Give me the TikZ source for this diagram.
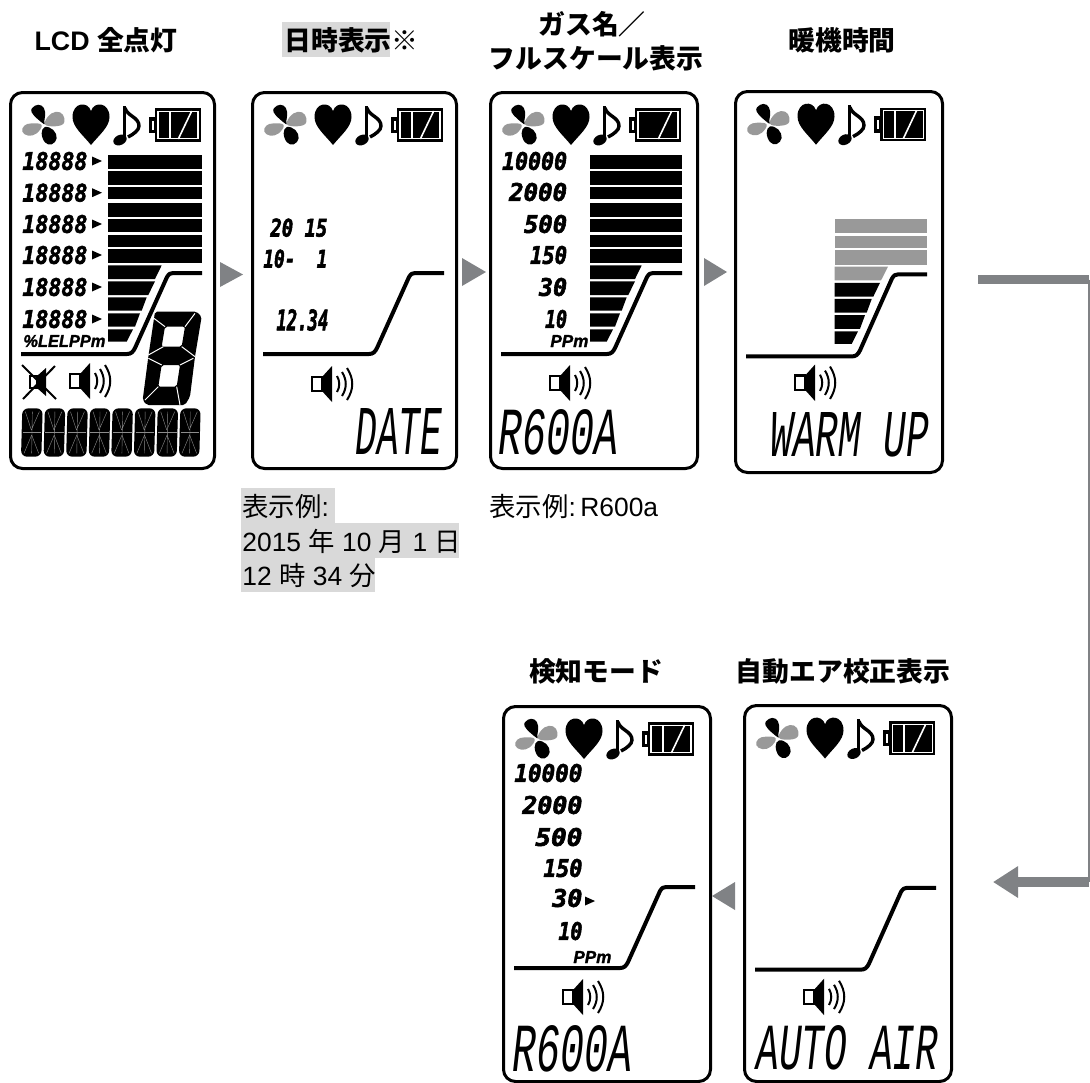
\documentclass[tikz,border=0pt]{standalone}
\usepackage{fontspec}
\usepackage{graphicx}
\usetikzlibrary{arrows.meta}
\setmainfont{Liberation Sans}
\newfontfamily\cj{Noto Sans CJK JP}
\newfontfamily\lcdsmall{DejaVu Sans Mono Bold Oblique}[FakeBold=2.5]
\newfontfamily\lcdlabel{Liberation Sans}[FakeBold=1.5]
\newfontfamily\lcdbig{Liberation Mono}
\definecolor{arrowgray}{HTML}{808285}
\definecolor{hl}{HTML}{D9D9D9}
\definecolor{lcdgray}{HTML}{999999}
\newdimen\pxu \pxu=0.5pt
\newcounter{tn}
\tikzset{
  panel/.style={draw=black,line width=1.5pt,rounded corners=6pt,fill=white,anchor=north west,inner sep=0pt},
  lcdline/.style={line width=2pt,line join=round},
  title/.style={inner sep=0pt,font=\fontsize{13.4}{16}\selectfont\bfseries},
  body/.style={inner sep=0pt,anchor=west,text=black,font=\fontsize{13.2}{16}\selectfont},
  lcdtext/.style={inner sep=0pt,anchor=west},
}
% small heavy oblique LCD text: x-left, y-centre, width, height, text
\newcommand\lcdS[5]{\stepcounter{tn}\node[lcdtext] (t\thetn) at (#1,#2) {\resizebox{#3\pxu}{#4\pxu}{\lcdsmall #5}};}
\newcommand\lcdL[5]{\stepcounter{tn}\node[lcdtext] (t\thetn) at (#1,#2) {\resizebox{#3\pxu}{#4\pxu}{\lcdlabel\bfseries\itshape #5}};}
% large thin LCD text
\newcommand\lcdB[5]{\stepcounter{tn}\node[lcdtext] (t\thetn) at (#1,#2) {\resizebox{#3\pxu}{#4\pxu}{\lcdbig\itshape #5}};}
\newcommand\rowarr[2]{\fill (#1,#2-4.5) -- (#1+10,#2) -- (#1,#2+4.5) -- cycle;}
\newcommand\icons[2]{%
  \begin{scope}[shift={(6,4)},scale=1/3]
    \fill plot[smooth cycle,tension=.7] coordinates {(85,86)(50,52)(60,32)(80,32)(90,50)(88,78)};
    \fill[lcdgray] plot[smooth cycle,tension=.7] coordinates {(90,80)(110,55)(135,52)(148,70)(140,90)(100,93)};
    \fill plot[smooth cycle,tension=.7] coordinates {(90,96)(115,105)(125,130)(110,148)(90,142)(80,115)};
    \fill[lcdgray] plot[smooth cycle,tension=.7] coordinates {(80,90)(50,85)(28,92)(22,110)(40,122)(65,115)};
  \end{scope}
  \fill (82,54) .. controls (74,44) and (63.5,36) .. (63.5,26) .. controls (63.5,11) and (79,10) .. (82,20) .. controls (85,10) and (100.5,11) .. (100.5,26) .. controls (100.5,36) and (90,44) .. (82,54) -- cycle;
  \draw[line width=1.5pt] (115.5,47) -- (115.5,15);
  \draw[line width=1.7pt] (116,17) .. controls (118,25) and (130,26) .. (130,35) .. controls (130,39) and (125,43) .. (119,46);
  \fill[rotate around={25:(111,49)}] (111,49) ellipse (7 and 5);
  \fill (146,17.3) rectangle (192,50.7);
  \fill (140.3,26) rectangle (147,42);
  \fill[white] (142.5,29.5) rectangle (145,38.5);
  \ifnum#1=1 \draw[white,line width=.6pt] (149,20.5) rectangle (189,47.5);\else \draw[white,line width=.3pt] (149,20.5) rectangle (189,47.5);\fi
  \ifnum#2=1 \draw[white,line width=1.1pt] (161,20) -- (161,48);\fi
  \draw[white,line width=.8pt] (169.3,48) -- (182.7,20);
}
\newcommand\lcdcurve{%
  \draw[lcdline] (12,263) -- (118,263) .. controls (122,263) and (124,261) .. (126,257) -- (158,186) .. controls (160,183) and (161,182) .. (164,182) -- (193,182);
}
\newcommand\speaker[1]{%
  \begin{scope}[shift={(60,#1)}]
    \draw[line width=1.2pt] (1,-7) rectangle (11,7);
    \fill (11,-7) -- (21,-18) -- (21,18) -- (11,7) -- cycle;
    \draw[line width=1pt] (26,-8) .. controls (29,-3) and (29,3) .. (26,8);
    \draw[line width=1pt] (31,-12) .. controls (36,-4) and (36,4) .. (31,12);
    \draw[line width=1pt] (36,-16) .. controls (43,-5) and (43,5) .. (36,16);
  \end{scope}
}
\newcommand\fullbars[1]{%
  \foreach \a/\b in {64/78.3,79.7/94,95.7/108.3,111.7/125.7,127.7/140.7,144/156.3,158.3/172.3}
    \fill (#1,\a) rectangle (193,\b);
}
\newcommand\traps[1]{%
  \fill (#1,174.3) -- (152.7,174.3) -- (146,188) -- (#1,188) -- cycle;
  \fill (#1,190.3) -- (146,190.3) -- (139.3,204) -- (#1,204) -- cycle;
  \fill (#1,206.3) -- (137.7,206.3) -- (132.7,219.7) -- (#1,219.7) -- cycle;
  \fill (#1,222.3) -- (131,222.3) -- (126,235.7) -- (#1,235.7) -- cycle;
  \fill (#1,238.3) -- (124,238.3) -- (117.7,250.7) -- (#1,250.7) -- cycle;
}
\begin{document}
\begin{tikzpicture}[x=0.5pt,y=-0.5pt]
\useasboundingbox (0,0) rectangle (1090,1082);
% highlights
\fill[hl] (282,22) rectangle (390,57);
\fill[hl] (241,488) rectangle (335,523);
\fill[hl] (241,523) rectangle (459,558);
\fill[hl] (241,558) rectangle (375,592);
% titles
\node[title] (h1) at (106,40) {LCD {\cj 全点灯}};
\node[title,anchor=west] (h2) at (284,40) {\cj 日時表示※};
\node[title] (h3a) at (592,24) {\cj ガス名／};
\node[title] (h3b) at (596,58) {\cj フルスケール表示};
\node[title] (h4) at (842,40) {\cj 暖機時間};
\node[title] (h5) at (596,671) {\cj 検知モード};
\node[title] (h6) at (843,671) {\cj 自動エア校正表示};
% notes
\node[body] (n1) at (242,506) {\cj 表示例\rmfamily:};
\node[body] (n2) at (242,541) {2015 {\cj 年} 10 {\cj 月} 1 {\cj 日}};
\node[body] (n3) at (242,576) {12 {\cj 時} 34 {\cj 分}};
\node[body] (n4) at (489,506) {{\cj 表示例}:\,R600a};
% panels
\node[panel,minimum width=102pt,minimum height=188pt] (p1) at (9,91) {};
\node[panel,minimum width=102pt,minimum height=188pt] (p2) at (251,91) {};
\node[panel,minimum width=103.5pt,minimum height=188pt] (p3) at (489,91) {};
\node[panel,minimum width=103.5pt,minimum height=190.5pt] (p4) at (734,90) {};
\node[panel,minimum width=103.5pt,minimum height=187.5pt] (p5) at (502,705) {};
\node[panel,minimum width=103.5pt,minimum height=188pt] (p6) at (743,704) {};
% panel 1
\begin{scope}[shift={(9,91)}]
  \icons{1}{1}
  \fullbars{99}
  \traps{99}
  \lcdcurve
  \foreach \y in {70,101.7,133,164,196,228}{
    \lcdS{13}{\y}{65}{18}{18888}
    \rowarr{83}{\y}
  }
  \lcdL{14}{250}{82}{12}{\%LELPPm}
  \speaker{290}
  % mute
  \draw[line width=1pt] (21,285) rectangle (28,297);
  \fill (28,285) -- (37,277) -- (37,305) -- (28,297) -- cycle;
  \draw[line width=1pt] (13,274) -- (47,308);
  \draw[line width=1pt] (14,308) -- (46,275);
  % big segment digit
  \begin{scope}[shift={(121,209)},scale=1/3]
    \fill[even odd rule,rounded corners=1pt]
      (75,35) -- (200,35) -- (215,50) -- (195,170) -- (180,290) -- (165,315) -- (50,315) -- (38,300) -- (55,170) -- cycle
      (105,80) -- (165,80) -- (155,140) -- (95,140) -- cycle
      (95,195) -- (150,195) -- (140,260) -- (85,260) -- cycle;
    \draw[white,line width=.5pt] (65,50) -- (105,80) (195,40) -- (165,80) (100,140) -- (55,165) (155,140) -- (195,170)
      (55,175) -- (95,195) (190,175) -- (150,195) (85,260) -- (45,300) (140,260) -- (150,315);
  \end{scope}
  % alphanumeric all-segment cells
  \begin{scope}[shift={(-9,-11)},scale=1/3]
    \foreach \i in {0,...,7}{
      \pgfmathsetmacro\cx{62+67.7*\i}
      \fill[rounded corners=3pt] (\cx+5,985) -- (\cx+66,985) -- (\cx+62,1130) -- (\cx+1,1130) -- cycle;
      \draw[black!45,line width=.2pt] (\cx+6,1057) -- (\cx+62,1057);
      \draw[black!45,line width=.2pt] (\cx+14,995) -- (\cx+32,1050) (\cx+56,995) -- (\cx+32,1050) (\cx+35,995) -- (\cx+33,1120);
      \draw[black!45,line width=.2pt] (\cx+33,1065) -- (\cx+10,1120) (\cx+33,1065) -- (\cx+54,1120);
    }
  \end{scope}
\end{scope}
% panel 2
\begin{scope}[shift={(251,91)}]
  \icons{1}{1}
  \lcdcurve
  \lcdS{19}{136.7}{57}{18}{20 15}
  \lcdS{12}{167.7}{64}{18}{10- \ 1}
  \lcdS{25}{229}{52}{21}{12.34}
  \speaker{293}
  \lcdB{104}{340.5}{87}{46}{DATE}
\end{scope}
% panel 3
\begin{scope}[shift={(489,91)}]
  \icons{1}{0}
  \fullbars{101}
  \traps{101}
  \lcdcurve
  \lcdS{12.7}{70}{65}{18}{10000}
  \lcdS{19.7}{101}{58}{18}{2000}
  \lcdS{34.7}{133}{43}{18}{500}
  \lcdS{40.7}{164}{37}{18}{150}
  \lcdS{49.7}{196}{28}{18}{30}
  \lcdS{55.7}{228}{22}{18}{10}
  \lcdL{61}{250}{38}{12}{PPm}
  \speaker{292}
  \lcdB{9.3}{341.5}{120}{45}{R600A}
\end{scope}
% panel 4
\begin{scope}[shift={(734,90)},yscale=1.013]
  \icons{0}{1}
  \foreach \a/\b in {127.7/140.7,144/156.3,158.3/172.3}
    \fill[lcdgray] (100.5,\a) rectangle (193,\b);
  \fill[lcdgray] (100.5,174.3) -- (154,174.3) -- (147,188) -- (100.5,188) -- cycle;
  \fill (100.5,190.3) -- (146,190.3) -- (139.3,204) -- (100.5,204) -- cycle;
  \fill (100.5,206.3) -- (137.7,206.3) -- (132.7,219.7) -- (100.5,219.7) -- cycle;
  \fill (100.5,222.3) -- (131,222.3) -- (126,235.7) -- (100.5,235.7) -- cycle;
  \fill (100.5,238.3) -- (124,238.3) -- (117.7,250.7) -- (100.5,250.7) -- cycle;
  \lcdcurve
  \speaker{289}
  \lcdB{36}{340}{159}{44}{WARM UP}
\end{scope}
% panel 5
\begin{scope}[shift={(502,705)}]
  \icons{1}{1}
  \lcdcurve
  \lcdS{12}{68}{68}{18}{10000}
  \lcdS{20}{100}{60}{18}{2000}
  \lcdS{33}{132}{47}{18}{500}
  \lcdS{41}{163}{39}{18}{150}
  \lcdS{50}{193}{30}{18}{30}
  \lcdS{56}{226}{24}{18}{10}
  \rowarr{83}{196}
  \lcdL{71}{252}{38}{12}{PPm}
  \speaker{292}
  \lcdB{9.7}{343.5}{120}{46}{R600A}
\end{scope}
% panel 6
\begin{scope}[shift={(743,704)},yscale=1.01]
  \icons{0}{1}
  \lcdcurve
  \speaker{290}
  \lcdB{13}{340}{182}{44}{AUTO AIR}
\end{scope}
% arrowheads between panels
\fill[arrowgray] (220,262) -- (243,274.5) -- (220,287) -- cycle;
\fill[arrowgray] (462,258) -- (486,272) -- (462,286) -- cycle;
\fill[arrowgray] (704,258) -- (727,272) -- (704,286) -- cycle;
\fill[arrowgray] (735,882) -- (712,896) -- (735,910) -- cycle;
% long connector
\coordinate (c1) at (978,279.5);
\coordinate (c2) at (1089,279.5);
\coordinate (c3) at (1089,882);
\coordinate (c4) at (993,882);
\draw[arrowgray,line width=4.5pt] (c1) -- (c2);
\draw[arrowgray,line width=1pt] (c2) -- (c3);
\draw[arrowgray,line width=4.8pt,-{Triangle[length=12.5pt,width=15pt]}] (c3) -- (c4);
\end{tikzpicture}
\end{document}
